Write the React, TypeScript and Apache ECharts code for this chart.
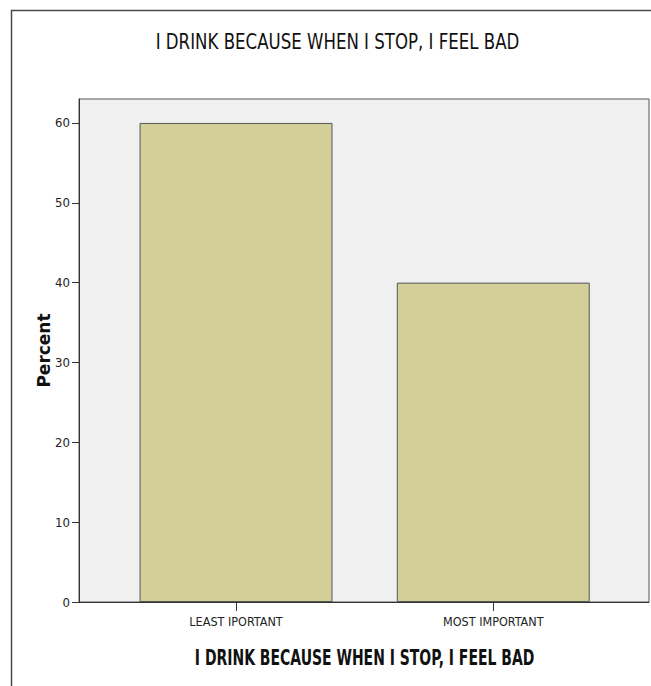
import React, { useEffect, useRef } from "react";
import * as echarts from "echarts";

const categories: string[] = ["LEAST IPORTANT", "MOST IMPORTANT"];
const percentValues: number[] = [60, 40];
const yTicks = { min: 0, max: 63, interval: 10 };
const chartTitle = "I DRINK BECAUSE WHEN I STOP, I FEEL BAD";
const xAxisTitle = "I DRINK BECAUSE WHEN I STOP, I FEEL BAD";
const yAxisTitle = "Percent";

const NARROW = '"Liberation Sans Narrow", "Arial Narrow", "DejaVu Sans Condensed", sans-serif';

export default function App() {
  const ref = useRef<HTMLDivElement>(null);
  useEffect(() => {
    if (!ref.current) return;
    const chart = echarts.init(ref.current, undefined, { renderer: "svg" });
    chart.setOption({
      animation: false,
      backgroundColor: "#ffffff",
      graphic: [
        {
          type: "rect",
          shape: { x: 11.5, y: 10.5, width: 700, height: 700 },
          style: { fill: "none", stroke: "#4a4a4a", lineWidth: 1.5 },
          silent: true,
          z: -10,
        },
        {
          type: "text",
          x: 337.5,
          y: 41,
          scaleX: 0.84,
          style: {
            text: chartTitle,
            fill: "#111",
            font: `22px ${NARROW}`,
            textAlign: "center",
            textVerticalAlign: "middle",
          },
        },
        {
          type: "text",
          x: 364.6,
          y: 658,
          scaleX: 0.74,
          style: {
            text: xAxisTitle,
            fill: "#111",
            font: `bold 21px ${NARROW}`,
            textAlign: "center",
            textVerticalAlign: "middle",
          },
        },
      ],
      grid: [
        {
          left: 79,
          top: 99,
          right: 2,
          bottom: 84,
          show: true,
          backgroundColor: "#f0f0f0",
          borderColor: "#555",
          borderWidth: 1,
        },
        {
          left: 107.4,
          top: 99,
          right: 29.1,
          bottom: 84,
        },
      ],
      xAxis: [
        {
          gridIndex: 0,
          type: "value",
          min: 0,
          max: 1,
          axisLine: { show: true, lineStyle: { color: "#333", width: 1 } },
          axisTick: { show: false },
          axisLabel: { show: false },
          splitLine: { show: false },
        },
        {
          gridIndex: 1,
          type: "category",
          data: categories,
          axisLine: { show: false },
          axisTick: { show: true, alignWithLabel: true, length: 9, lineStyle: { color: "#333" } },
          axisLabel: { color: "#222", fontFamily: NARROW, fontSize: 12.5, margin: 13 },
        },
      ],
      yAxis: [
        {
          gridIndex: 0,
          type: "value",
          min: yTicks.min,
          max: yTicks.max,
          interval: yTicks.interval,
          axisLine: { show: true, lineStyle: { color: "#333", width: 1 } },
          axisTick: { show: true, length: 7, lineStyle: { color: "#333" } },
          axisLabel: { color: "#222", fontFamily: NARROW, fontSize: 13, margin: 9, showMaxLabel: false },
          splitLine: { show: false },
          name: yAxisTitle,
          nameLocation: "middle",
          nameRotate: 90,
          nameGap: 27,
          nameMoveOverlap: false,
          nameTextStyle: { color: "#111", fontFamily: '"DejaVu Sans", sans-serif', fontSize: 17, fontWeight: "bold" },
        },
        {
          gridIndex: 1,
          type: "value",
          min: yTicks.min,
          max: yTicks.max,
          show: false,
        },
      ],
      series: [
        {
          type: "bar",
          xAxisIndex: 1,
          yAxisIndex: 1,
          data: percentValues,
          barWidth: "75%",
          itemStyle: { color: "#d3cf98", borderColor: "#555", borderWidth: 1 },
        },
      ],
    });
    return () => chart.dispose();
  }, []);
  return (
    <div
      ref={ref}
      style={{ position: "absolute", left: 0, top: 0, width: 651, height: 686, overflow: "hidden" }}
    />
  );
}
